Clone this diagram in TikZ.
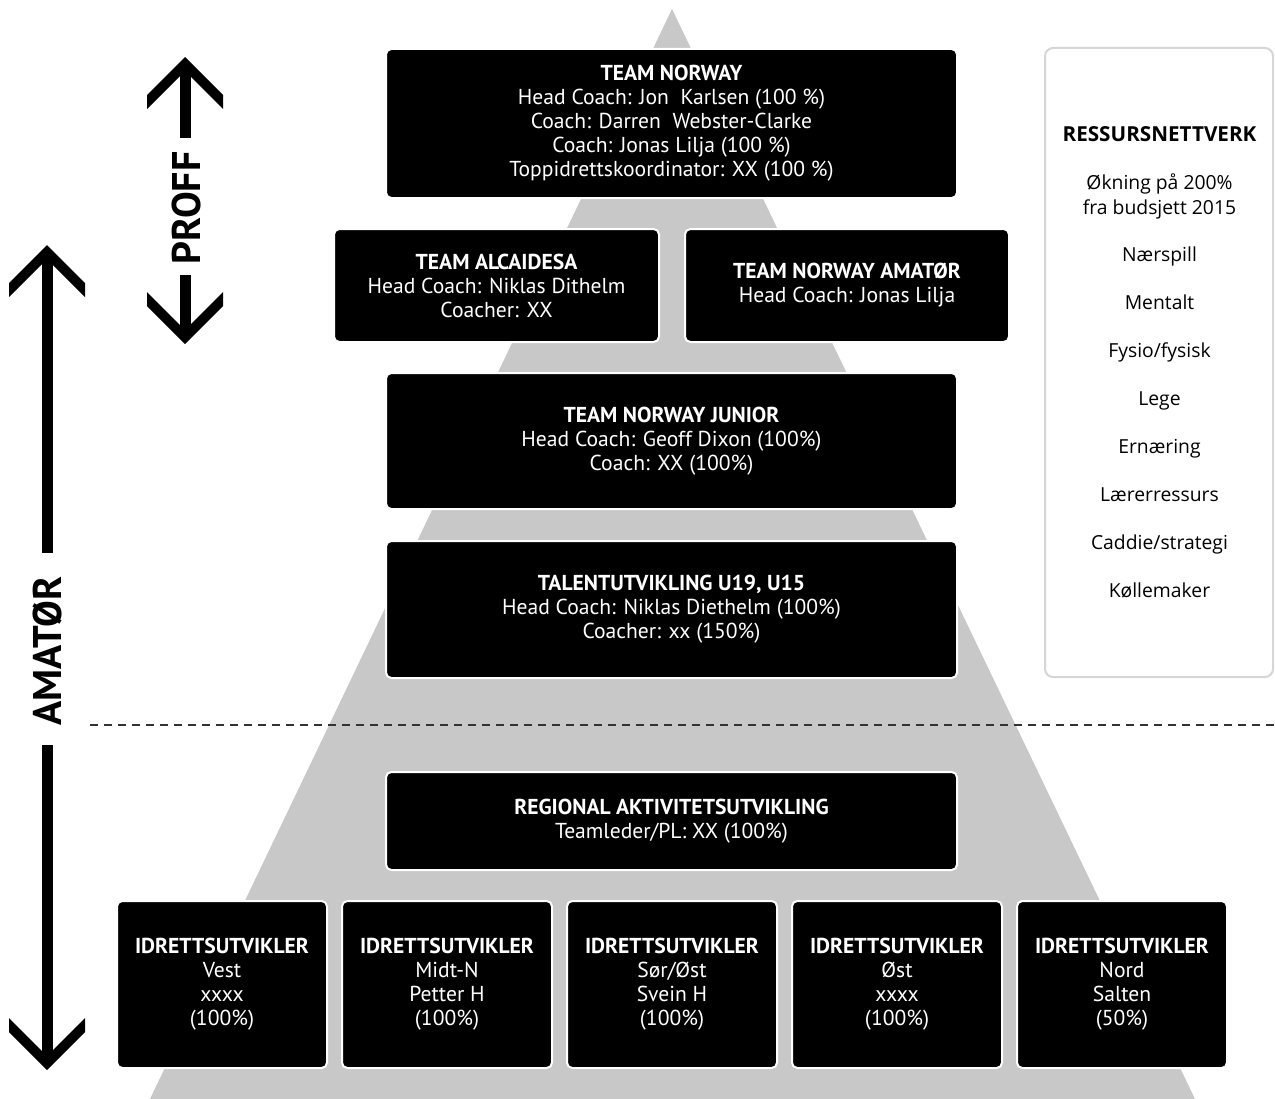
\documentclass[tikz,border=0pt]{standalone}
\usepackage{fontspec}
\setmainfont{PT Sans}
\newfontfamily\sidefont{Open Sans}

\definecolor{pyramidgrey}{RGB}{200,200,200}
\definecolor{framegrey}{RGB}{214,214,214}

\tikzset{
  boxsize/.style 2 args={minimum width=#1*0.75pt, minimum height=#2*0.75pt},
  unit/.style={fill=black, draw=white, line width=1.5pt, rounded corners=4pt,
    text=white, align=center, inner sep=0pt,
    font=\fontsize{16.2}{18}\selectfont,
    execute at begin node={\rule{0pt}{16.5pt}}},
  sidebox/.style={fill=white, draw=framegrey, line width=1.5pt,
    rounded corners=6pt, inner sep=0pt},
  sidetext/.style={text=black, anchor=base, inner sep=0pt,
    font=\sidefont\fontsize{14.5}{18}\selectfont},
  shaft/.style={line width=8.25pt},
  level/.style={font=\bfseries\fontsize{30}{30}\selectfont, rotate=90,
    inner sep=0pt}
}

\begin{document}
\begin{tikzpicture}[x=.75pt,y=-.75pt]
  \useasboundingbox (0,0) rectangle (1275,1099);

  % grey pyramid behind everything
  \fill[pyramidgrey] (672,9) -- (1195,1099) -- (150,1099) -- cycle;

  % split between the two levels
  \draw[line width=.9pt, black!80, dash pattern=on 6pt off 4.5pt]
    (90,725) -- (1275,725);

  % top of the pyramid
  \node[unit, boxsize={571}{149}] (norway) at (671.5,123.5)
    {\textbf{TEAM NORWAY}\\Head Coach: Jon\ \ Karlsen (100 \%)\\
     Coach: Darren\ \ Webster-Clarke\\Coach: Jonas Lilja (100 \%)\\
     Toppidrettskoordinator: XX (100 \%)};
  \node[unit, boxsize={325}{113}] (alcaidesa) at (496.5,285.5)
    {\textbf{TEAM ALCAIDESA}\\Head Coach: Niklas Dithelm\\Coacher: XX};
  \node[unit, boxsize={324}{113}] (amator) at (847,285.5)
    {\textbf{TEAM NORWAY AMATØR}\\Head Coach: Jonas Lilja};
  \node[unit, boxsize={571}{136}] (junior) at (671.5,441)
    {\textbf{TEAM NORWAY JUNIOR}\\Head Coach: Geoff Dixon (100\%)\\
     Coach: XX (100\%)};
  \node[unit, boxsize={571}{137}] (talent) at (671.5,609.5)
    {\textbf{TALENTUTVIKLING U19, U15}\\
     Head Coach: Niklas Diethelm (100\%)\\Coacher: xx (150\%)};

  % lower part
  \node[unit, boxsize={571}{98}] (regional) at (671.5,821)
    {\textbf{REGIONAL AKTIVITETSUTVIKLING}\\Teamleder/PL: XX (100\%)};
  \foreach \x/\name/\who/\share [count=\i] in
      {222/Vest/xxxx/100, 447/Midt-N/Petter H/100, 672/{Sør/Øst}/Svein H/100,
       897/Øst/xxxx/100, 1122/Nord/Salten/50}
    \node[unit, boxsize={210}{167}] (idrett\i) at (\x,984.5)
      {\textbf{IDRETTSUTVIKLER}\\\name\\\who\\(\share\%)};

  % resource network on the right
  \node[sidebox, boxsize={228}{629}] (ressurs) at (1159,362.5) {};
  \node[sidetext, font=\sidefont\bfseries\fontsize{15.5}{18}\selectfont]
    (restitle) at (1159.5,142) {RESSURSNETTVERK};
  \node[sidetext] (budget1) at (1159.5,190) {Økning på 200\%};
  \node[sidetext] (budget2) at (1159.5,214) {fra budsjett 2015};
  \foreach \item [count=\i] in {Nærspill, Mentalt, Fysio/fysisk, Lege,
      Ernæring, Lærerressurs, Caddie/strategi, Køllemaker}
    \node[sidetext] (res\i) at (1159.5,213+48*\i) {\item};

  % PROFF arrow
  \node[level] (proff) at (186,208) {PROFF};
  \fill (185,57) -- (223,95) -- (223,109) -- (185,71) -- (147,109)
    -- (147,95) -- cycle;
  \draw[shaft] (185,68) -- (185,138);
  \draw[shaft] (185,275) -- (185,333);
  \fill (185,344) -- (223,306) -- (223,292) -- (185,330) -- (147,292)
    -- (147,306) -- cycle;

  % AMATOR arrow
  \node[level] (amatorlabel) at (47,651) {AMATØR};
  \fill (47,245) -- (85,283) -- (85,297) -- (47,259) -- (9,297)
    -- (9,283) -- cycle;
  \draw[shaft] (47,255) -- (47,553);
  \draw[shaft] (47,745) -- (47,1060);
  \fill (47,1070) -- (85,1032) -- (85,1018) -- (47,1056) -- (9,1018)
    -- (9,1032) -- cycle;
\end{tikzpicture}
\end{document}
